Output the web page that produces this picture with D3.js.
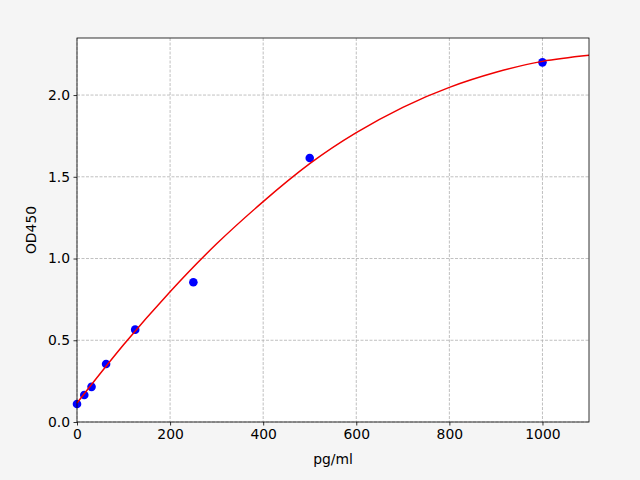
<!DOCTYPE html>
<html><head><meta charset="utf-8">
<script src="https://cdn.jsdelivr.net/npm/d3@7"></script>
<style>body{margin:0;background:#f5f5f5;} svg{display:block;}</style>
</head><body>
<svg id="c" width="640" height="480"></svg>
<script>
const pointsX = [0, 15.625, 31.25, 62.5, 125, 250, 500, 1000];
const pointsY = [0.11, 0.165, 0.215, 0.355, 0.565, 0.855, 1.615, 2.2];
const curveX = [0, 100, 200, 300, 400, 500, 600, 700, 800, 900, 1000, 1100];
const curveY = [0.116, 0.472, 0.797, 1.09, 1.348, 1.58, 1.77, 1.925, 2.047, 2.139, 2.206, 2.243];
const xTicks = [0, 200, 400, 600, 800, 1000];
const yTicks = [0.0, 0.5, 1.0, 1.5, 2.0];

const svg = d3.select("#c");
svg.append("rect").attr("width",640).attr("height",480).attr("fill","#f5f5f5");
const L=77, R=589, T=38, B=422;
const x = d3.scaleLinear().domain([0,1100]).range([L,R]);
const y = d3.scaleLinear().domain([0,2.349]).range([B,T]);
svg.append("rect").attr("x",L).attr("y",T).attr("width",R-L).attr("height",B-T).attr("fill","#fff");

const g = svg.append("g");
g.selectAll(".gx").data(xTicks).join("line")
 .attr("x1",d=>x(d)).attr("x2",d=>x(d)).attr("y1",T).attr("y2",B)
 .attr("stroke","#b0b0b0").attr("stroke-width",0.8).attr("stroke-dasharray","3,1.5");
g.selectAll(".gy").data(yTicks).join("line")
 .attr("y1",d=>y(d)).attr("y2",d=>y(d)).attr("x1",L).attr("x2",R)
 .attr("stroke","#b0b0b0").attr("stroke-width",0.8).attr("stroke-dasharray","3,1.5");

svg.append("g").selectAll("circle").data(pointsX.map((v,i)=>[v,pointsY[i]])).join("circle")
 .attr("cx",d=>x(d[0])).attr("cy",d=>y(d[1])).attr("r",4.3).attr("fill","#0000ff");

const line = d3.line().x(d=>x(d[0])).y(d=>y(d[1])).curve(d3.curveNatural);
svg.append("path").datum(curveX.map((v,i)=>[v,curveY[i]]))
 .attr("d",line).attr("fill","none").attr("stroke","#f00000").attr("stroke-width",1.5);

const xa = svg.append("g").attr("transform",`translate(0,${B})`)
 .call(d3.axisBottom(x).tickValues(xTicks).tickFormat(d3.format("d")).tickSize(3.5).tickPadding(3.5));
const ya = svg.append("g").attr("transform",`translate(${L},0)`)
 .call(d3.axisLeft(y).tickValues(yTicks).tickFormat(d3.format(".1f")).tickSize(3.5).tickPadding(3.5));
[xa,ya].forEach(a=>{
  a.select(".domain").remove();
  a.selectAll("text").attr("font-family","DejaVu Sans").attr("font-size","13.9px").attr("fill","#000");
  a.selectAll("line").attr("stroke","#000").attr("stroke-width",0.8);
});
svg.append("rect").attr("x",L).attr("y",T).attr("width",R-L).attr("height",B-T)
 .attr("fill","none").attr("stroke","#000").attr("stroke-width",0.8);

svg.append("text").attr("x",(L+R)/2).attr("y",464).attr("text-anchor","middle")
 .attr("font-family","DejaVu Sans").attr("font-size","13.9px").text("pg/ml");
svg.append("text").attr("transform",`translate(36,${(T+B)/2}) rotate(-90)`).attr("text-anchor","middle")
 .attr("font-family","DejaVu Sans").attr("font-size","13.9px").text("OD450");
</script>
</body></html>
